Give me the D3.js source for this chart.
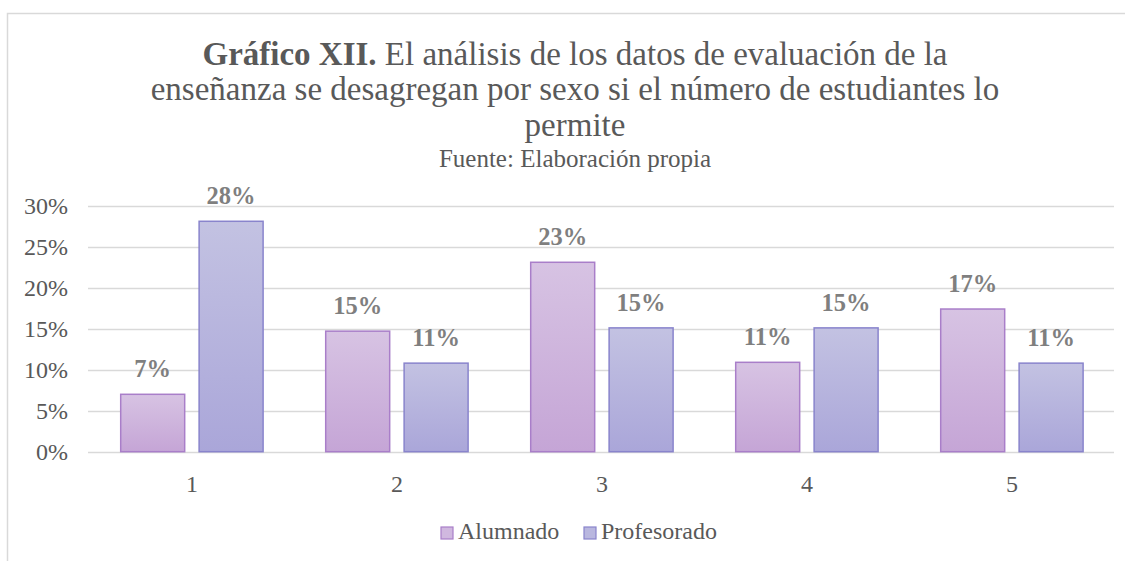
<!DOCTYPE html>
<html>
<head>
<meta charset="utf-8">
<script src="https://cdn.jsdelivr.net/npm/d3@7"></script>
<style>
  body { margin: 0; background: #fff; }
  svg text { font-family: "Liberation Serif", "Times New Roman", serif; }
</style>
</head>
<body>
<div id="chart"></div>
<script>
// data
const categories = ["1", "2", "3", "4", "5"];
const seriesNames = ["Alumnado", "Profesorado"];
const alumnado = [7.0, 14.7, 23.1, 10.9, 17.4];
const profesorado = [28.1, 10.8, 15.1, 15.1, 10.8];
const yTicks = [0, 5, 10, 15, 20, 25, 30];
const titleLines = [
    "El análisis de los datos de evaluación de la",
    "enseñanza se desagregan por sexo si el número de estudiantes lo",
    "permite"
];
const titleBold = "Gráfico XII.";
const subtitle = "Fuente: Elaboración propia";

const width = 1125, height = 561;
const grey = "#595959";

const svg = d3.select("#chart")
    .append("svg")
    .attr("width", width)
    .attr("height", height);

// chart frame
svg.append("rect")
    .attr("x", 7.5)
    .attr("y", 13.5)
    .attr("width", 1140)
    .attr("height", 600)
    .attr("fill", "#fff")
    .attr("stroke", "#d9d9d9")
    .attr("stroke-width", 1.5);

// gradients for the bars
const defs = svg.append("defs");
const grads = [
    {id: "gAlum", top: "#d7c3e3", bottom: "#c5a5d6"},
    {id: "gProf", top: "#c3c2e2", bottom: "#aaa6d9"}
];
grads.forEach(function (g) {
    const lg = defs.append("linearGradient")
        .attr("id", g.id)
        .attr("x1", "0%").attr("x2", "0%")
        .attr("y1", "0%").attr("y2", "100%");
    lg.append("stop").attr("offset", "0%").style("stop-color", g.top);
    lg.append("stop").attr("offset", "100%").style("stop-color", g.bottom);
});
const fills = ["url(#gAlum)", "url(#gProf)"];
const strokes = ["#a97ec9", "#8984cc"];
const legendFills = ["#d0b8df", "#b9b7df"];

// title
const cx = 575;
const title = svg.append("g").attr("fill", grey).attr("text-anchor", "middle");
const t1 = title.append("text")
    .attr("x", cx)
    .attr("y", 65)
    .style("font-size", "33px");
t1.append("tspan").style("font-weight", "bold").text(titleBold + " ");
t1.append("tspan").text(titleLines[0]);
title.append("text")
    .attr("x", cx)
    .attr("y", 100)
    .style("font-size", "33px")
    .text(titleLines[1]);
title.append("text")
    .attr("x", cx)
    .attr("y", 136)
    .style("font-size", "33px")
    .text(titleLines[2]);
title.append("text")
    .attr("x", cx)
    .attr("y", 167)
    .style("font-size", "25px")
    .text(subtitle);

// scales
const x0 = d3.scaleBand()
    .domain(categories)
    .range([89.4, 1114.4]);
const x1 = d3.scaleBand()
    .domain(seriesNames)
    .range([31.3, x0.bandwidth() - 31.3])
    .paddingInner(0.184);
const y = d3.scaleLinear()
    .domain([0, 30])
    .range([451.7, 205.7]);

// gridlines
svg.append("g")
    .selectAll("line")
    .data(yTicks)
    .join("line")
    .attr("x1", 88)
    .attr("x2", 1114)
    .attr("y1", d => Math.round(y(d)) + 0.5)
    .attr("y2", d => Math.round(y(d)) + 0.5)
    .attr("stroke", "#d9d9d9")
    .attr("stroke-width", 1.5);

// y axis labels
svg.append("g")
    .selectAll("text")
    .data(yTicks)
    .join("text")
    .attr("x", 68)
    .attr("y", d => y(d))
    .attr("dy", "0.33em")
    .attr("text-anchor", "end")
    .attr("fill", grey)
    .style("font-size", "24px")
    .text(d => d + "%");

// bars
const rows = categories.map((c, i) => ({cat: c, values: [alumnado[i], profesorado[i]]}));
const groups = svg.append("g")
    .selectAll("g")
    .data(rows)
    .join("g")
    .attr("transform", d => `translate(${x0(d.cat)},0)`);

groups.selectAll("rect")
    .data(d => d.values.map((v, i) => ({s: seriesNames[i], i: i, v: v})))
    .join("rect")
    .attr("x", d => x1(d.s))
    .attr("y", d => y(d.v))
    .attr("width", x1.bandwidth())
    .attr("height", d => y(0) - y(d.v))
    .attr("fill", d => fills[d.i])
    .attr("stroke", d => strokes[d.i])
    .attr("stroke-width", 1.5);

groups.selectAll("text.lbl")
    .data(d => d.values.map((v, i) => ({s: seriesNames[i], v: v})))
    .join("text")
    .attr("class", "lbl")
    .attr("x", d => x1(d.s) + x1.bandwidth() / 2)
    .attr("y", d => y(d.v) - 17)
    .attr("text-anchor", "middle")
    .attr("fill", "#7f7f7f")
    .style("font-size", "24.5px")
    .style("font-weight", "bold")
    .text(d => Math.round(d.v) + "%");

// x axis labels
svg.append("g")
    .selectAll("text")
    .data(categories)
    .join("text")
    .attr("x", d => x0(d) + x0.bandwidth() / 2)
    .attr("y", 492)
    .attr("text-anchor", "middle")
    .attr("fill", grey)
    .style("font-size", "24px")
    .text(d => d);

// legend
const legendX = [441, 584];
const legend = svg.append("g")
    .selectAll("g")
    .data(seriesNames)
    .join("g")
    .attr("transform", (d, i) => `translate(${legendX[i]},527)`);
legend.append("rect")
    .attr("width", 12)
    .attr("height", 12)
    .attr("fill", (d, i) => legendFills[i])
    .attr("stroke", (d, i) => strokes[i])
    .attr("stroke-width", 1.2);
legend.append("text")
    .attr("x", 17)
    .attr("y", 12)
    .attr("fill", grey)
    .style("font-size", "24px")
    .text(d => d);
</script>
</body>
</html>
